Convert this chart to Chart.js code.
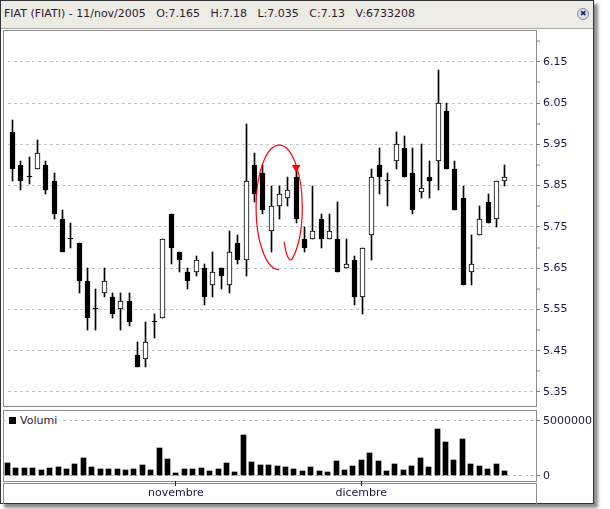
<!DOCTYPE html>
<html>
<head>
<meta charset="utf-8">
<script src="https://cdn.jsdelivr.net/npm/chart.js@4.4.1/dist/chart.umd.min.js"></script>
<style>
  body { margin: 0; background: #fff; font-family: "DejaVu Sans", sans-serif; }
  .abs { position: absolute; box-sizing: border-box; }
  #win   { left: 0; top: 0; width: 594px; height: 504px; border: 1px solid #333;
           background: #fff; box-shadow: 4px 4px 3px rgba(0,0,0,0.45); }
  #head  { left: 1px; top: 1px; width: 592px; height: 28px; background: #ecece4;
           border-bottom: 1px solid #a8a8a8; }
  #title { left: 4px; top: 7px; font-size: 11px; color: #301830; white-space: pre; }
  #close { left: 577px; top: 8px; width: 12px; height: 12px; border-radius: 50%;
           border: 1px solid #8890a0; background: radial-gradient(#f6f7f9, #c4c9d6);
           color: #1c2c6c; font-size: 8px; line-height: 10px; text-align: center; }
  .panel { border: 1px solid #8c8c8c; }
  #pPanel { left: 3px; top: 30px;  width: 534px; height: 377px; }
  #vPanel { left: 3px; top: 410px; width: 534px; height: 72px; }
  #dPanel { left: 3px; top: 483px; width: 534px; height: 21px; border-bottom: none; }
  #priceCanvas { left: 3px; top: 30px; }
  #volCanvas   { left: 3px; top: 410px; }
  #legend { left: 8px; top: 414px; height: 13px; padding-right: 2px; background: #fff;
            font-size: 11px; line-height: 13px; color: #301830; }
  #legend span { display: inline-block; width: 7px; height: 7px; background: #000;
                 margin: 0 4px 1px 1px; vertical-align: middle; }
</style>
</head>
<body>
<div id="win" class="abs"></div>
<div id="head" class="abs"></div>
<div id="title" class="abs"></div>
<div id="close" class="abs">&#10006;</div>
<div id="pPanel" class="abs panel"></div>
<div id="vPanel" class="abs panel"></div>
<div id="dPanel" class="abs panel"></div>
<canvas id="priceCanvas" class="abs" width="590" height="377"></canvas>
<canvas id="volCanvas" class="abs" width="590" height="93"></canvas>
<div id="legend" class="abs"><span></span>Volumi</div>

<script>
// ---- header ----
const headerParts = ['FIAT (FIATI) - 11/nov/2005', 'O:7.165', 'H:7.18', 'L:7.035', 'C:7.13', 'V:6733208'];

// ---- daily candles ----
const openP  = [5.98, 5.90, 5.87, 5.89, 5.90, 5.86, 5.77, 5.72, 5.71, 5.62,
                5.55, 5.59, 5.58, 5.55, 5.57, 5.44, 5.43, 5.52, 5.53, 5.78,
                5.69, 5.64, 5.64, 5.65, 5.61, 5.65, 5.61, 5.71, 5.67, 5.90,
                5.88, 5.74, 5.80, 5.82, 5.87, 5.72, 5.72, 5.77, 5.72, 5.72,
                5.65, 5.67, 5.58, 5.73, 5.90, 5.86, 5.91, 5.94, 5.88, 5.835,
                5.87, 5.91, 6.03, 5.89, 5.82, 5.64, 5.73, 5.81, 5.77, 5.86];
const highP  = [6.01, 5.91, 5.92, 5.96, 5.91, 5.88, 5.79, 5.76, 5.71, 5.65,
                5.60, 5.65, 5.59, 5.59, 5.59, 5.47, 5.52, 5.54, 5.72, 5.78,
                5.69, 5.65, 5.68, 5.66, 5.69, 5.65, 5.74, 5.73, 6.00, 5.93,
                5.90, 5.85, 5.85, 5.87, 5.885, 5.75, 5.85, 5.78, 5.78, 5.81,
                5.72, 5.68, 5.70, 5.89, 5.94, 5.88, 5.98, 5.97, 5.94, 5.95,
                5.91, 6.13, 6.05, 5.91, 5.85, 5.73, 5.80, 5.83, 5.86, 5.90];
const lowP   = [5.86, 5.84, 5.855, 5.89, 5.83, 5.77, 5.69, 5.70, 5.59, 5.50,
                5.50, 5.58, 5.53, 5.50, 5.51, 5.41, 5.41, 5.48, 5.53, 5.66,
                5.64, 5.60, 5.63, 5.56, 5.58, 5.60, 5.59, 5.66, 5.63, 5.81,
                5.78, 5.69, 5.77, 5.80, 5.76, 5.69, 5.72, 5.70, 5.72, 5.64,
                5.65, 5.56, 5.54, 5.67, 5.83, 5.80, 5.89, 5.87, 5.78, 5.82,
                5.82, 5.84, 5.89, 5.79, 5.61, 5.61, 5.73, 5.76, 5.75, 5.85];
const closeP = [5.89, 5.86, 5.87, 5.93, 5.84, 5.78, 5.69, 5.72, 5.62, 5.53,
                5.55, 5.62, 5.54, 5.57, 5.52, 5.41, 5.47, 5.52, 5.72, 5.70,
                5.67, 5.62, 5.67, 5.58, 5.64, 5.63, 5.69, 5.67, 5.86, 5.83,
                5.79, 5.80, 5.83, 5.84, 5.77, 5.70, 5.74, 5.72, 5.74, 5.64,
                5.66, 5.58, 5.70, 5.87, 5.87, 5.86, 5.95, 5.87, 5.79, 5.845,
                5.86, 6.05, 5.89, 5.79, 5.61, 5.66, 5.77, 5.76, 5.86, 5.87];
const volume = [1150000,  670000,  670000,  700000,  550000,  670000,  790000,  640000, 1060000, 1610000,
                 790000,  640000,  640000,  640000,  550000,  640000,  970000,  550000, 2520000, 1520000,
                 240000,  640000,  640000,  700000,  450000,  600000, 1150000,  330000, 3700000, 1240000,
                 940000,  970000,  900000,  820000,  640000,  420000,  790000,  420000,  330000, 1330000,
                 520000,  880000, 1420000, 2060000, 1330000,  420000, 1060000,  520000,  880000, 1610000,
                 790000, 4240000, 3060000, 1420000, 3330000, 1060000,  880000,  610000, 1060000,  420000];

// ---- axes ----
const priceTicks = [5.35, 5.40, 5.45, 5.50, 5.55, 5.60, 5.65, 5.70, 5.75,
                    5.80, 5.85, 5.90, 5.95, 6.00, 6.05, 6.10, 6.15, 6.20];
const volTicks    = [0, 5000000];
const monthIdx    = [20, 42];
const monthLabels = ['novembre', 'dicembre'];

// ---- annotation (in data units: candle index / price) ----
const markX = [34], markY = [5.894];
const ring = { x: 31.96, y: 5.797, rx: 2.77, ry: 0.151, hookX: 32.56, hookY: 5.714, ctlX: 32.9, ctlY: 5.665 };

document.getElementById('title').textContent = headerParts.join('   ');

const X_MIN = -0.534, X_MAX = 62.74;
const FONT = { family: 'DejaVu Sans', size: 11 };
const LABEL_COLOR = '#1a1a40';
const GRID_COLOR = '#c4c4c4';

// keep candles and volume bars on whole pixels so 1px lines stay crisp
const snapBars = {
  id: 'snapBars',
  beforeDatasetsDraw(chart) {
    chart.data.datasets.forEach((ds, i) => {
      const meta = chart.getDatasetMeta(i);
      if (meta.type !== 'bar') return;
      meta.data.forEach(el => {
        el.x = Math.floor(el.x) + 0.5;
        el.y = Math.round(el.y);
        el.base = Math.round(el.base);
      });
    });
  }
};

const ringNote = {
  id: 'ringNote',
  afterDatasetsDraw(chart) {
    const { x, y } = chart.scales;
    const ctx = chart.ctx;
    const cx = x.getPixelForValue(ring.x), cy = y.getPixelForValue(ring.y);
    const rx = x.getPixelForValue(ring.x + ring.rx) - cx;
    const ry = cy - y.getPixelForValue(ring.y + ring.ry);
    ctx.save();
    ctx.strokeStyle = '#ff0000';
    ctx.lineWidth = 1.2;
    ctx.beginPath();
    ctx.ellipse(cx, cy, rx, ry, 0, Math.PI / 2, Math.PI * 2 + 0.99);
    ctx.quadraticCurveTo(x.getPixelForValue(ring.ctlX), y.getPixelForValue(ring.ctlY),
                         x.getPixelForValue(ring.hookX), y.getPixelForValue(ring.hookY));
    ctx.stroke();
    ctx.restore();
  }
};

function noPad(s) { s.paddingTop = 0; s.paddingBottom = 0; s.paddingLeft = 0; s.paddingRight = 0; }

// ============================================================
// PRICE CHART
// ============================================================
const isMajor = v => Math.round(v * 100) % 10 === 5;

new Chart(document.getElementById('priceCanvas'), {
  type: 'bar',
  data: {
    datasets: [
      { // wicks
        data: highP.map((h, i) => ({ x: i, y: [lowP[i], h] })),
        backgroundColor: '#000', borderWidth: 0, barThickness: 1, grouped: false, order: 3
      },
      { // bodies
        data: openP.map((o, i) => ({ x: i, y: [o, closeP[i]] })),
        backgroundColor: openP.map((o, i) => closeP[i] > o ? '#fff' : '#000'),
        borderColor: '#000', borderWidth: 1, borderSkipped: false,
        barThickness: 5, minBarLength: 1, grouped: false, order: 2
      },
      { // marker
        type: 'line',
        data: markX.map((v, i) => ({ x: v, y: markY[i] })),
        showLine: false, pointStyle: 'triangle', rotation: 180, pointRadius: 5,
        pointBackgroundColor: '#ff0000', pointBorderWidth: 0, order: 1
      }
    ]
  },
  options: {
    responsive: false,
    animation: false,
    layout: { padding: 0 },
    plugins: { legend: { display: false }, tooltip: { enabled: false } },
    scales: {
      x: { type: 'linear', min: X_MIN, max: X_MAX, offset: false, grid: { offset: false }, display: false },
      y: {
        position: 'right',
        min: 5.3257, max: 6.2149,
        afterBuildTicks: s => { s.ticks = priceTicks.map(v => ({ value: v })); },
        afterFit: s => { s.width = 57; noPad(s); },
        ticks: {
          autoSkip: false, padding: 3, color: LABEL_COLOR, font: FONT,
          callback: v => isMajor(v) ? v.toFixed(2) : ''
        },
        grid: {
          color: GRID_COLOR,
          lineWidth: c => (c.tick && isMajor(c.tick.value)) ? 1 : 0,
          tickColor: '#808080', tickWidth: 1, tickLength: 4
        },
        border: { display: false, dash: [3, 3] }
      }
    }
  },
  plugins: [snapBars, ringNote]
});

// ============================================================
// VOLUME CHART (with the month axis below)
// ============================================================
new Chart(document.getElementById('volCanvas'), {
  type: 'bar',
  data: {
    datasets: [{
      data: volume.map((v, i) => ({ x: i, y: v })),
      backgroundColor: '#000', borderWidth: 0, barThickness: 5
    }]
  },
  options: {
    responsive: false,
    animation: false,
    layout: { padding: 0 },
    plugins: { legend: { display: false }, tooltip: { enabled: false } },
    scales: {
      x: {
        type: 'linear', min: X_MIN, max: X_MAX, offset: false,
        afterBuildTicks: s => { s.ticks = monthIdx.map(v => ({ value: v })); },
        afterFit: s => { s.height = 22; noPad(s); },
        ticks: {
          autoSkip: false, maxRotation: 0, padding: 1, color: LABEL_COLOR, font: FONT,
          callback: (v, i) => monthLabels[i]
        },
        grid: { offset: false, drawOnChartArea: false, color: '#202020', tickColor: '#202020', tickWidth: 1, tickLength: 5 },
        border: { display: false }
      },
      y: {
        position: 'right',
        min: -482000, max: 5973000,
        afterBuildTicks: s => { s.ticks = volTicks.map(v => ({ value: v })); },
        afterFit: s => { s.width = 57; noPad(s); },
        ticks: { autoSkip: false, padding: 3, color: LABEL_COLOR, font: FONT, callback: v => String(v) },
        grid: { color: GRID_COLOR, tickColor: '#808080', tickWidth: 1, tickLength: 4 },
        border: { display: false, dash: [3, 3] }
      }
    }
  },
  plugins: [snapBars]
});
</script>
</body>
</html>
